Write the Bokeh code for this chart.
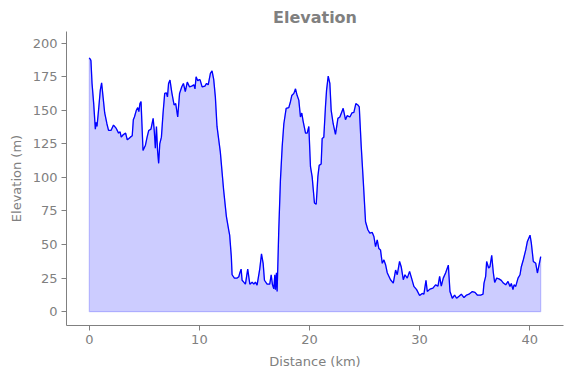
from bokeh.plotting import figure
from bokeh.models import FixedTicker, Range1d
from bokeh.embed import file_html
from bokeh.resources import INLINE

distance_km = [
    0.00, 0.10, 0.15, 0.25, 0.40, 0.55, 0.62, 0.70, 0.85, 1.00, 1.12, 1.25, 1.40, 1.60, 1.75, 1.97,
    2.20, 2.45, 2.66, 2.80, 2.90, 3.10, 3.30, 3.45, 3.60, 3.73, 3.90, 4.00, 4.10, 4.27, 4.40, 4.50,
    4.60, 4.70, 4.88, 5.10, 5.25, 5.40, 5.60, 5.80, 5.90, 6.00, 6.10, 6.20, 6.30, 6.40, 6.55, 6.70,
    6.85, 7.00, 7.10, 7.20, 7.33, 7.50, 7.70, 7.85, 8.03, 8.20, 8.40, 8.55, 8.72, 8.90, 9.10, 9.30,
    9.50, 9.60, 9.70, 9.85, 10.00, 10.07, 10.25, 10.50, 10.65, 10.80, 11.00, 11.15, 11.30, 11.45,
    11.60, 11.90, 12.20, 12.45, 12.66, 12.75, 12.90, 12.97, 13.18, 13.43, 13.58, 13.67, 13.79,
    13.88, 14.03, 14.18, 14.39, 14.58, 14.79, 14.94, 15.09, 15.24, 15.48, 15.64, 15.79, 15.91,
    16.15, 16.39, 16.52, 16.64, 16.76, 16.85, 16.91, 17.00, 17.06, 17.21, 17.36, 17.52, 17.67,
    17.88, 18.12, 18.27, 18.39, 18.58, 18.73, 18.88, 19.03, 19.18, 19.30, 19.42, 19.64, 19.79,
    19.94, 20.09, 20.24, 20.45, 20.61, 20.76, 20.88, 21.06, 21.15, 21.30, 21.45, 21.55, 21.70,
    21.85, 21.97, 22.15, 22.36, 22.58, 22.76, 23.06, 23.27, 23.42, 23.67, 23.85, 24.03, 24.21,
    24.39, 24.52, 24.70, 24.88, 25.09, 25.30, 25.48, 25.70, 25.85, 26.00, 26.15, 26.30, 26.45,
    26.61, 26.76, 26.91, 27.06, 27.36, 27.61, 27.82, 27.97, 28.18, 28.33, 28.52, 28.67, 28.88,
    29.09, 29.27, 29.48, 29.73, 30.00, 30.24, 30.39, 30.58, 30.70, 30.94, 31.21, 31.45, 31.67,
    31.82, 31.97, 32.15, 32.36, 32.61, 32.76, 32.97, 33.18, 33.36, 33.58, 33.79, 34.03, 34.27,
    34.48, 34.79, 35.03, 35.24, 35.55, 35.76, 35.85, 36.00, 36.09, 36.27, 36.39, 36.55, 36.70,
    36.82, 37.00, 37.21, 37.42, 37.61, 37.82, 38.03, 38.21, 38.33, 38.48, 38.58, 38.73, 38.94,
    39.12, 39.24, 39.42, 39.64, 39.79, 40.03, 40.15, 40.33, 40.55, 40.70, 41.00,
]

elevation_m = [
    189, 188, 187, 170, 155, 136, 141, 138, 151, 165, 170.5, 160, 148, 140, 135, 135,
    139, 136.5, 133, 134, 130, 132, 133, 128, 129, 130, 131, 143, 145, 150, 152, 149,
    155, 156.5, 120, 124, 130, 135, 136, 144, 135, 121.7, 138, 120, 110.5, 125, 130, 148,
    162.6, 163, 160, 170, 172.5, 163, 154, 155, 145, 162.6, 167.5, 170, 164, 171, 167.5, 168,
    169, 166, 175, 172, 173, 172.5, 167.5, 168, 170, 169, 177.5, 179.4, 173, 160,
    138, 119, 90.7, 71, 61, 57, 41, 27.5, 25, 25, 26, 28.8, 31.7,
    23.4, 22, 20.5, 31.7, 20.5, 22, 20.5, 22, 19.8, 31.7, 43, 36, 23.4,
    20.5, 20.5, 27.5, 20, 17, 27.5, 16.4, 29, 15, 61, 98, 123, 140,
    151.5, 152, 156.4, 161, 162.6, 166, 161, 157.6, 145, 148, 142, 133, 133,
    138, 108, 100.6, 81, 80, 100.6, 109, 110, 129, 130, 152.6, 165, 175.5,
    170, 150, 140, 132, 144, 145, 151.5, 143, 146, 145, 148, 148.5, 155,
    154, 152.6, 123, 98, 67, 61, 58.5, 59, 56, 48.5, 53.5, 47, 46,
    36, 38.6, 35, 29, 23.8, 21.3, 31, 27.5, 37.4, 33.5, 23.8, 27.5, 25,
    30, 25, 18.8, 16.4, 12, 13.6, 13, 23.3, 15, 16.8, 17.6, 20, 19,
    26.3, 19, 25, 28.8, 34.7, 15, 10, 12.4, 10, 11.5, 13, 10.5, 12.4,
    13, 15, 14.4, 12.4, 12.4, 13, 21.3, 26.3, 37.4, 32.5, 33.5, 42, 28.8,
    21.8, 25, 24.4, 23.3, 21.3, 20, 22.5, 18.8, 21, 16.4, 20, 18.8, 25,
    27.5, 33.5, 38.7, 46, 52.3, 57, 51, 37.4, 36, 28.8, 41,
]

x_ticks = [0, 10, 20, 30, 40]
y_ticks = [0, 25, 50, 75, 100, 125, 150, 175, 200]

GRAY = "#808080"
FONT = "DejaVu Sans"

p = figure(width=571, height=378, output_backend="svg", toolbar_location=None,
           x_range=Range1d(-2.07, 43.07), y_range=Range1d(-10.3, 208.7),
           min_border_left=66, min_border_right=8, min_border_top=30, min_border_bottom=53,
           title="Elevation")

p.title.align = "center"
p.title.text_color = GRAY
p.title.text_font = FONT
p.title.text_font_size = "16px"
p.title.text_font_style = "bold"
p.title.offset = -1

p.outline_line_color = None
p.xgrid.visible = False
p.ygrid.visible = False

fill_x = [distance_km[0]] + distance_km + [distance_km[-1]]
fill_y = [0] + elevation_m + [0]
p.patch(fill_x, fill_y, fill_color="blue", fill_alpha=0.2, line_color="blue", line_alpha=0.2, line_width=1.2)
p.line(distance_km, elevation_m, line_color="blue", line_width=1.3)

p.xaxis.ticker = FixedTicker(ticks=x_ticks)
p.yaxis.ticker = FixedTicker(ticks=y_ticks)
p.xaxis.axis_label = "Distance (km)"
p.yaxis.axis_label = "Elevation (m)"

for ax in (p.xaxis[0], p.yaxis[0]):
    ax.axis_line_color = GRAY
    ax.axis_line_width = 1
    ax.major_tick_line_color = GRAY
    ax.major_tick_out = 5
    ax.major_tick_in = 0
    ax.minor_tick_line_color = None
    ax.major_label_text_color = GRAY
    ax.major_label_text_font = FONT
    ax.major_label_text_font_size = "13px"
    ax.axis_label_text_color = GRAY
    ax.axis_label_text_font = FONT
    ax.axis_label_text_font_size = "13px"
    ax.axis_label_text_font_style = "normal"
    ax.major_label_standoff = 4

p.xaxis.axis_label_standoff = 7
p.yaxis.axis_label_standoff = 6

open("out.html", "w").write(file_html(p, INLINE))
